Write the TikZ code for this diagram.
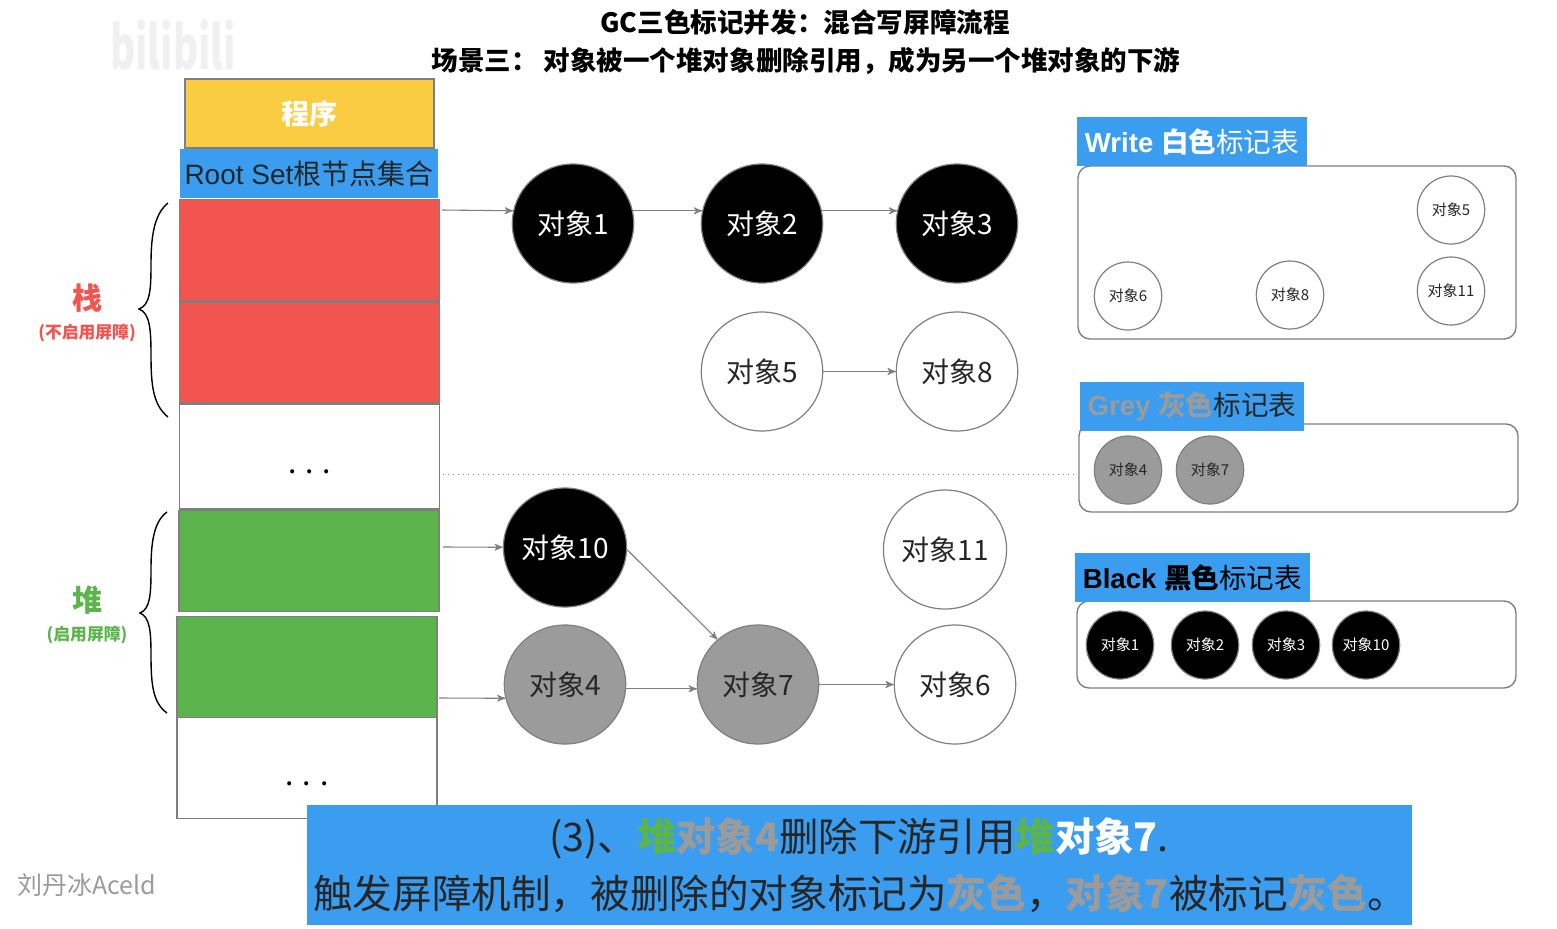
\documentclass[tikz,border=0pt]{standalone}
\usepackage{fontspec}
\setmainfont{Noto Sans CJK SC}
\newfontfamily\lat{Liberation Sans}
\usetikzlibrary{arrows}
\usetikzlibrary{positioning}
\usetikzlibrary{shapes.geometric}
\definecolor{markblue}{HTML}{3B9DF0}
\definecolor{stackred}{HTML}{F25450}
\definecolor{heapgreen}{HTML}{5CB54C}
\definecolor{progyellow}{HTML}{F9CC41}
\definecolor{markgrey}{HTML}{9B9B9B}
\definecolor{edgegrey}{HTML}{7F7F7F}
\newcommand{\fsize}[1]{\fontsize{#1}{#1}\selectfont}
\tikzset{flow/.style = {->, >=stealth', draw=edgegrey, line width=0.55pt}}
\tikzset{stackcell/.style = {draw=edgegrey, line width=0.9pt, minimum width=130pt, minimum height=50.5pt, inner sep=0pt}}
\tikzset{obj/.style = {ellipse, draw=edgegrey, line width=0.6pt, minimum width=60.7pt, minimum height=59.5pt, inner sep=0pt, font=\fsize{14}}}
\tikzset{smallobj/.style = {obj, minimum width=33.7pt, minimum height=34pt, font=\fsize{7.5}}}
\tikzset{blackobj/.style = {fill=black, text=white}}
\tikzset{greyobj/.style = {fill=markgrey, text=black!85}}
\tikzset{whiteobj/.style = {fill=white, text=black!85}}
\tikzset{marktable/.style = {draw=edgegrey, line width=0.7pt, rounded corners=6pt}}
\tikzset{markhead/.style = {fill=markblue, inner sep=0pt, font=\fsize{13.8}}}
\tikzset{brace/.style = {draw=black, line width=0.7pt}}

\begin{document}
\begin{tikzpicture}[x=0.5pt, y=-0.5pt]
    \useasboundingbox (0, 0) rectangle (1557, 928);

    \node (logo) at (173, 45) [text=black!6, font=\fsize{30}\bfseries] {\scalebox{0.64}[1]{bilibili}};
    \node (title) at (805, 22) [font=\fsize{13.3}\bfseries] {GC三色标记并发：混合写屏障流程};
    \node (subtitle) at (806, 60.5) [font=\fsize{13.26}\bfseries] {场景三：\ 对象被一个堆对象删除引用，成为另一个堆对象的下游};

    \node (prog) at (309.5, 113.5) [stackcell, fill=progyellow, minimum width=124.5pt, minimum height=34.5pt,
                                    text=white, font=\fsize{14}\bfseries] {程序};
    \node (root) at (309, 173.5) [fill=markblue, inner sep=0pt, minimum width=129pt, minimum height=24.5pt,
                                  text=black!85, font=\fsize{14}] {{\lat Root Set}根节点集合};
    \node (cellA) at (309.5, 250) [stackcell, fill=stackred] {};
    \node (cellB) at (309.5, 352.5) [stackcell, fill=stackred] {};
    \node (cellC) at (309.5, 456.5) [stackcell, fill=white, minimum height=52.5pt, font=\fsize{15}] {\raisebox{-17pt}{. . .}};
    \node (cellD) at (309, 561) [stackcell, fill=heapgreen] {};
    \node (cellE) at (307, 667) [stackcell, fill=heapgreen] {};
    \node (cellF) at (307, 768) [stackcell, fill=white, font=\fsize{15}] {\raisebox{-18pt}{. . .}};

    \draw [brace] (168, 203) .. controls (153, 215) and (151, 240) .. (151, 265)
        .. controls (151, 290) and (150, 305) .. (139, 309)
        .. controls (150, 313) and (151, 330) .. (151, 355)
        .. controls (151, 385) and (153, 405) .. (168, 417);
    \draw [brace] (167, 512) .. controls (153, 522) and (151, 545) .. (151, 570)
        .. controls (151, 595) and (150, 609) .. (140, 613)
        .. controls (150, 617) and (151, 632) .. (151, 655)
        .. controls (151, 685) and (153, 703) .. (167, 713);

    \node (stacklabel) at (87, 298) [text=stackred, font=\fsize{15}\bfseries] {栈};
    \node (stacknote) at (87, 333) [text=stackred, font=\fsize{8.4}\bfseries] {(不启用屏障)};
    \node (heaplabel) at (87, 600.5) [text=heapgreen, font=\fsize{15}\bfseries] {堆};
    \node (heapnote) at (87, 635) [text=heapgreen, font=\fsize{8.4}\bfseries] {(启用屏障)};
    \node (sign) at (87, 885) [text=markgrey, font=\fsize{12.5}\itshape] {刘丹冰Aceld};

    \foreach \name/\x/\y/\num/\kind in {obj1/573/223.5/1/blackobj, obj2/762/223.5/2/blackobj, obj3/957/223.5/3/blackobj,
                                        obj5/762/371.5/5/whiteobj, obj8/957/371.5/8/whiteobj, obj10/565/547.5/10/blackobj,
                                        obj11/945/549.5/11/whiteobj, obj4/565/684.5/4/greyobj, obj7/758/684.5/7/greyobj,
                                        obj6/955/684.5/6/whiteobj} {
      \node (\name) at (\x, \y) [obj, \kind] {对象\num};
    }

    \coordinate (outA) at (442, 210);
    \coordinate (outD) at (443, 547);
    \coordinate (outE) at (439, 698);
    \draw [flow] (outA) -- (obj1.168);
    \draw [flow] (obj1.12) -- (obj2.168);
    \draw [flow] (obj2.12) -- (obj3.168);
    \draw [flow] (obj5) -- (obj8);
    \draw [flow] (outD) -- (obj10);
    \draw [flow] (outE) -- (obj4.193);
    \draw [flow] (obj10.358) -- (obj7.132);
    \draw [flow] (obj4.356) -- (obj7.184);
    \draw [flow] (obj7) -- (obj6);
    \draw [draw=edgegrey, line width=0.5pt, dotted] (443, 474) -- (1078, 474);

    \draw [marktable] (1078, 166) rectangle (1516, 339);
    \draw [marktable] (1079, 424) rectangle (1518, 512);
    \draw [marktable] (1077, 601) rectangle (1516, 688);
    \node (writehead) at (1192, 141.5) [markhead, minimum width=115pt, minimum height=24.5pt, text=white] {{\lat\bfseries Write }\textbf{白色}标记表};
    \node (greyhead) at (1192, 406.5) [markhead, minimum width=112pt, minimum height=24.5pt, text=black!85] {\textcolor{markgrey}{{\lat\bfseries Grey }\textbf{灰色}}标记表};
    \node (blackhead) at (1192.5, 577.5) [markhead, minimum width=117.5pt, minimum height=24.5pt, text=black] {{\lat\bfseries Black }\textbf{黑色}标记表};

    \foreach \name/\x/\y/\num/\kind in {wa/1451/210/5/whiteobj, wb/1128/296/6/whiteobj, wc/1290/295/8/whiteobj, wd/1451/291/11/whiteobj,
                                        ga/1128/470/4/greyobj, gb/1210/470/7/greyobj,
                                        ba/1120/645/1/blackobj, bb/1205/645/2/blackobj, bc/1286/645/3/blackobj, bd/1366/645/10/blackobj} {
      \node (\name) at (\x, \y) [smallobj, \kind] {对象\num};
    }

    \node (banner) at (859.5, 865) [fill=markblue, minimum width=552.5pt, minimum height=60pt, inner sep=0pt] {};
    \node (lineone) at (859, 838) [text=black!85, font=\fsize{19.7}] {(3)、\textcolor{heapgreen}{\textbf{堆}}\textcolor{markgrey}{\textbf{对象4}}删除下游引用\textcolor{heapgreen}{\textbf{堆}}\textcolor{white}{\textbf{对象7}}.};
    \node (linetwo) at (860, 893) [text=black!85, font=\fsize{19.8}] {触发屏障机制，被删除的对象标记为\textcolor{markgrey}{\textbf{灰色}}，\textcolor{markgrey}{\textbf{对象7}}被标记\textcolor{markgrey}{\textbf{灰色}}。};
\end{tikzpicture}
\end{document}
